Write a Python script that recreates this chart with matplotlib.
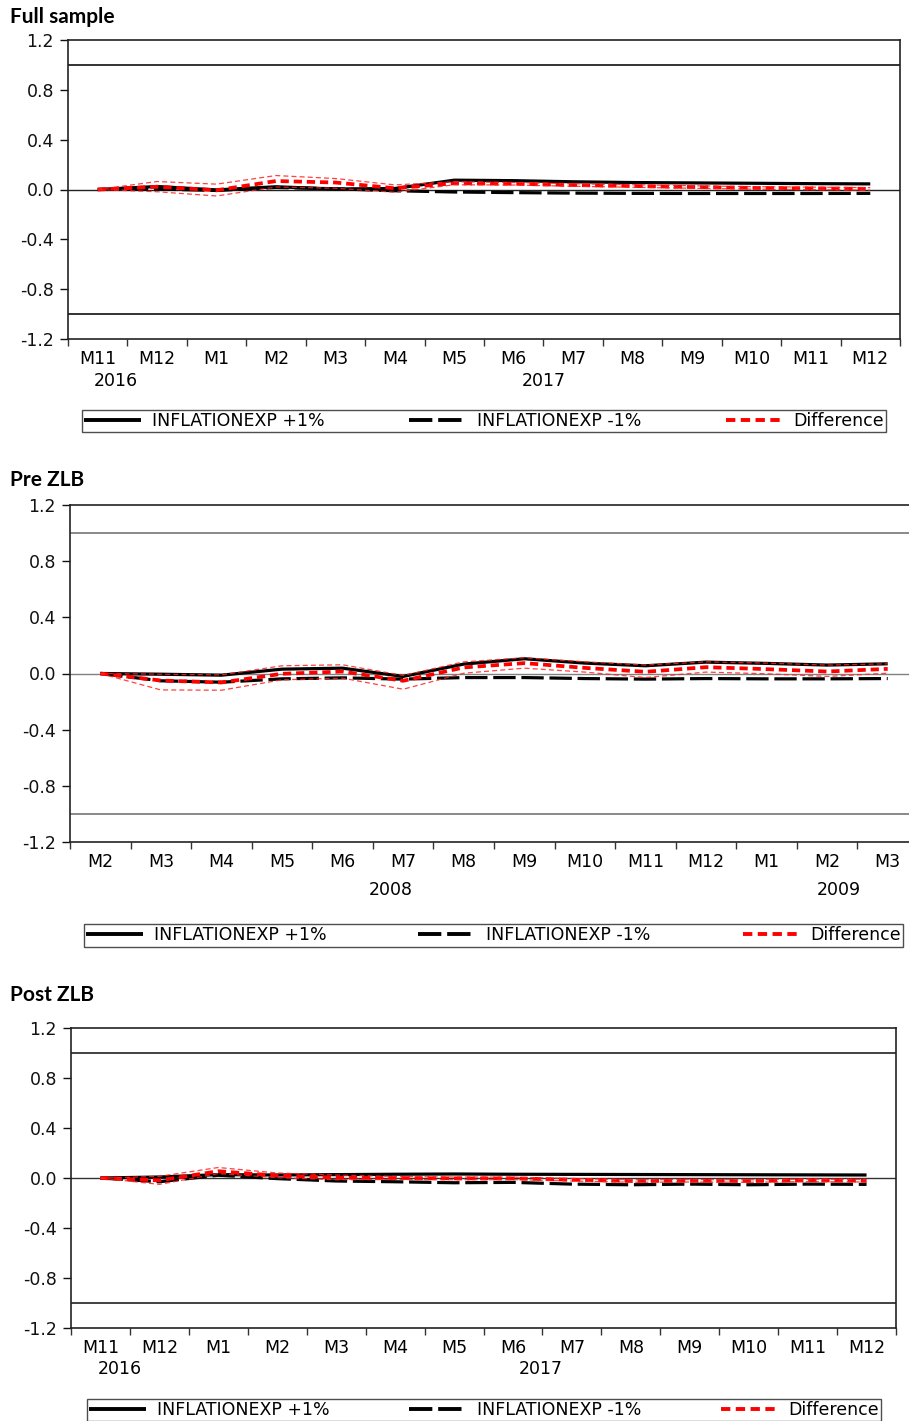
import matplotlib
matplotlib.use("Agg")
import matplotlib.pyplot as plt
from matplotlib.lines import Line2D

# ---------------- data ----------------
months_full = ["M11", "M12", "M1", "M2", "M3", "M4", "M5", "M6", "M7", "M8", "M9", "M10", "M11", "M12"]
years_full = ["2016", "2017"]
year_pos_full = [0.3, 7.5]

full_plus = [0.0, 0.024, -0.003, 0.022, 0.004, 0.008, 0.075, 0.071, 0.062, 0.056, 0.053, 0.050, 0.047, 0.045]
full_minus = [0.0, 0.004, -0.008, 0.016, 0.006, -0.010, -0.020, -0.025, -0.029, -0.031, -0.032, -0.032, -0.032, -0.031]
full_diff = [0.0, 0.022, -0.006, 0.068, 0.056, 0.010, 0.050, 0.046, 0.036, 0.028, 0.020, 0.013, 0.009, 0.005]
full_up = [0.0, 0.064, 0.043, 0.112, 0.088, 0.037, 0.062, 0.056, 0.046, 0.038, 0.030, 0.023, 0.019, 0.015]
full_lo = [0.0, -0.018, -0.052, 0.020, 0.010, -0.022, 0.038, 0.036, 0.026, 0.018, 0.010, 0.003, -0.001, -0.005]

months_pre = ["M2", "M3", "M4", "M5", "M6", "M7", "M8", "M9", "M10", "M11", "M12", "M1", "M2", "M3"]
years_pre = ["2008", "2009"]
year_pos_pre = [4.8, 12.2]

pre_plus = [0.0, -0.005, -0.012, 0.031, 0.038, -0.021, 0.067, 0.105, 0.074, 0.055, 0.081, 0.072, 0.060, 0.069]
pre_minus = [0.0, -0.052, -0.062, -0.038, -0.031, -0.040, -0.029, -0.029, -0.036, -0.040, -0.036, -0.038, -0.038, -0.036]
pre_diff = [0.0, -0.050, -0.064, -0.002, 0.014, -0.052, 0.043, 0.074, 0.040, 0.012, 0.045, 0.031, 0.014, 0.033]
pre_up = [0.0, -0.005, -0.010, 0.055, 0.062, -0.014, 0.083, 0.112, 0.083, 0.060, 0.083, 0.074, 0.060, 0.069]
pre_lo = [0.0, -0.117, -0.119, -0.045, -0.033, -0.112, 0.002, 0.038, 0.010, -0.029, 0.010, -0.002, -0.021, 0.002]

months_post = ["M11", "M12", "M1", "M2", "M3", "M4", "M5", "M6", "M7", "M8", "M9", "M10", "M11", "M12"]
years_post = ["2016", "2017"]
year_pos_post = [0.32, 7.48]

post_plus = [0.0, 0.008, 0.027, 0.024, 0.027, 0.030, 0.032, 0.030, 0.029, 0.028, 0.027, 0.026, 0.025, 0.024]
post_minus = [0.0, -0.030, 0.022, -0.005, -0.024, -0.030, -0.038, -0.035, -0.049, -0.054, -0.049, -0.054, -0.049, -0.051]
post_diff = [0.0, -0.019, 0.054, 0.019, 0.003, 0.000, -0.003, -0.003, -0.014, -0.024, -0.022, -0.024, -0.019, -0.022]
post_up = [0.0, 0.013, 0.084, 0.040, 0.024, 0.012, 0.008, 0.007, -0.004, -0.014, -0.012, -0.014, -0.009, -0.012]
post_lo = [0.0, -0.051, 0.035, 0.003, -0.014, -0.012, -0.014, -0.013, -0.024, -0.034, -0.032, -0.034, -0.029, -0.032]

titles = ["Full sample", "Pre ZLB", "Post ZLB"]
legend_labels = ["INFLATIONEXP +1%", "INFLATIONEXP -1%", "Difference"]
yticks = [-1.2, -0.8, -0.4, 0.0, 0.4, 0.8, 1.2]

# ---------------- layout (pixels) ----------------
W, H = 909, 1421
DPI = 100
fig = plt.figure(figsize=(W / DPI, H / DPI), dpi=DPI)
fig.patch.set_facecolor("white")

TICK_FONT = ["DejaVu Sans"]
TITLE_FONT = ["Lato", "DejaVu Sans"]
FS = 12.5

panels = [
    dict(title=titles[0], months=months_full, years=years_full, ypos=year_pos_full,
         plus=full_plus, minus=full_minus, diff=full_diff, up=full_up, lo=full_lo,
         box=(68, 40, 900, 339), title_xy=(10, 17), hcol="#222222",
         leg=(82, 409, 886, 433), yoff=42),
    dict(title=titles[1], months=months_pre, years=years_pre, ypos=year_pos_pre,
         plus=pre_plus, minus=pre_minus, diff=pre_diff, up=pre_up, lo=pre_lo,
         box=(70, 505, 918, 842), title_xy=(10, 480), hcol="#808080",
         leg=(84, 923, 903, 948), yoff=48),
    dict(title=titles[2], months=months_post, years=years_post, ypos=year_pos_post,
         plus=post_plus, minus=post_minus, diff=post_diff, up=post_up, lo=post_lo,
         box=(71, 1028, 896, 1328), title_xy=(10, 995), hcol="#333333",
         leg=(87, 1398, 881, 1422), yoff=41),
]

for p in panels:
    l, t, r, b = p["box"]
    ax = fig.add_axes([l / W, 1 - b / H, (r - l) / W, (b - t) / H])
    n = len(p["months"])
    x = list(range(n))
    ax.set_xlim(-0.5, n - 0.5)
    ax.set_ylim(-1.2, 1.2)

    # reference lines
    for yv in (1.0, -1.0):
        ax.axhline(yv, color=p["hcol"], lw=1.3, zorder=1)
    ax.axhline(0.0, color=p["hcol"], lw=1.0, zorder=1)

    ax.plot(x, p["plus"], color="black", lw=2.3, solid_capstyle="butt", zorder=3)
    ax.plot(x, p["minus"], color="black", lw=2.3, dashes=(7, 1.8), zorder=3)
    ax.plot(x, p["diff"], color="#ff0000", lw=2.7, dashes=(2.2, 1.3), zorder=4)
    ax.plot(x, p["up"], color="#ff2020", lw=0.9, dashes=(4, 2.5), alpha=0.85, zorder=5)
    ax.plot(x, p["lo"], color="#ff2020", lw=0.9, dashes=(4, 2.5), alpha=0.85, zorder=5)

    # axes styling
    for s in ax.spines.values():
        s.set_color("#222222")
        s.set_linewidth(1.2)
    ax.set_yticks(yticks)
    ax.set_yticklabels([f"{v:.1f}" for v in yticks], fontfamily=TICK_FONT, fontsize=FS)
    ax.tick_params(axis="y", direction="out", length=6, width=1, pad=4, colors="#111111")

    ax.set_xticks([i - 0.5 for i in range(n + 1)], minor=False)
    ax.set_xticklabels([])
    ax.tick_params(axis="x", which="major", direction="out", length=5, width=1, color="#333333")
    ax.set_xticks(x, minor=True)
    ax.set_xticklabels(p["months"], minor=True, fontfamily=TICK_FONT, fontsize=FS)
    ax.tick_params(axis="x", which="minor", length=0, pad=8)

    # year labels
    yfrac = p["yoff"] / (b - t)
    for yr, xp in zip(p["years"], p["ypos"]):
        ax.text(xp, -yfrac, yr, transform=ax.get_xaxis_transform(),
                ha="center", va="center", fontfamily=TICK_FONT, fontsize=FS)

    # title
    tx, ty = p["title_xy"]
    fig.text(tx / W, 1 - ty / H, p["title"], ha="left", va="center",
             fontfamily=TITLE_FONT, fontweight="bold", fontsize=15)

    # legend
    lx0, ly0, lx1, ly1 = p["leg"]
    handles = [
        Line2D([], [], color="black", lw=2.8, solid_capstyle="butt"),
        Line2D([], [], color="black", lw=2.8, dashes=(6, 1.5)),
        Line2D([], [], color="#ff0000", lw=2.8, dashes=(2.4, 1.4)),
    ]
    leg = fig.legend(handles, legend_labels, ncol=3, mode="expand",
                     loc="center",
                     bbox_to_anchor=(lx0 / W, 1 - ly1 / H, (lx1 - lx0) / W, (ly1 - ly0) / H),
                     prop={"family": TICK_FONT, "size": FS},
                     frameon=True, fancybox=False, shadow=False,
                     handlelength=3.3, handletextpad=0.6, borderpad=0.12,
                     borderaxespad=0.0, columnspacing=1.0)
    fr = leg.get_frame()
    fr.set_edgecolor("#222222")
    fr.set_linewidth(1.0)

fig.savefig("out.png", dpi=DPI, facecolor="white")
